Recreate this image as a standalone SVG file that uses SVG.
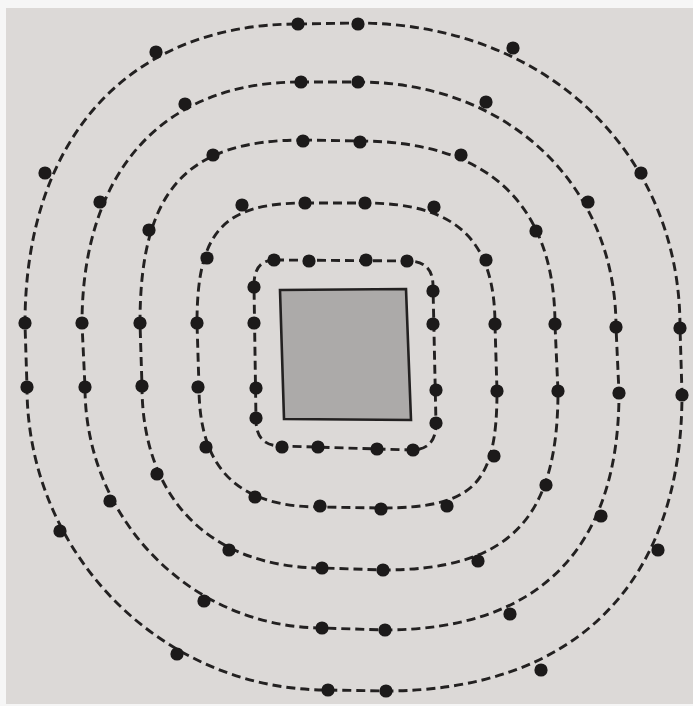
<svg xmlns="http://www.w3.org/2000/svg" width="693" height="706" viewBox="0 0 693 706">
<style>
.ring{fill:none;stroke:#232121;stroke-width:2.9;stroke-dasharray:9 5}
.dot{fill:#1c1a1a}
</style>
<defs>
<circle id="d" r="6.6" class="dot"/>
</defs>
<rect x="0" y="0" width="693" height="706" fill="#f6f6f6"/>
<rect x="6" y="8" width="687" height="696" fill="#dcd9d7"/>
<g id="square">
<polygon points="280,290 406,289 411,420 284,419" fill="#acaaa9" stroke="#232121" stroke-width="2.6"/>
</g>
<g id="connectors">
<path id="ring1-line" class="ring" d="M275,260 L408,261 Q433,261 433,286 L436,424 Q436,450 411,450 L281,446 Q256,446 256,420 L254,285 Q254,260 275,260 Z"/>
<path id="ring2-line" class="ring" d="M305,203 L365,203 C456,203 495,239.6 495,325 L497,391 C497,484.6 473.8,508 381,508 L320,507 C237.7,507 199,468.6 199,387 L197,323 C197,231.8 223,203 305,203 Z"/>
<path id="ring3-line" class="ring" d="M303,140 L359,141 C488,141 555,204 555,325 L558,391 C558,520 509,570 383,570 L323,568 C210.8,568 142,498.8 142,386 L140,323 C140,191.2 185.6,140 303,140 Z"/>
<path id="ring4-line" class="ring" d="M300,82 L358,82 C508,82 616,185 616,327 L619,393 C619,549 539,630 384,630 L323,628 C192,628 85,520 85,387 L82,324 C82,171.5 162.7,82 300,82 Z"/>
<path id="ring5-line" class="ring" d="M298,24 L357,23 C544,23 680,151 680,327 L682,394 C682,584 575,691 385,691 L327,690 C162,690 27,554 27,387 L25,324 C25,138 129,24 298,24 Z"/>
</g>
<g id="ring1">
<use href="#d" x="274" y="260"/><use href="#d" x="309" y="261"/><use href="#d" x="366" y="260"/><use href="#d" x="407" y="261"/>
<use href="#d" x="433" y="291"/><use href="#d" x="433" y="324"/><use href="#d" x="436" y="390"/><use href="#d" x="436" y="423"/>
<use href="#d" x="413" y="450"/><use href="#d" x="377" y="449"/><use href="#d" x="318" y="447"/><use href="#d" x="282" y="447"/>
<use href="#d" x="256" y="418"/><use href="#d" x="256" y="388"/><use href="#d" x="254" y="323"/><use href="#d" x="254" y="287"/>
</g>
<g id="ring2">
<use href="#d" x="242" y="205"/><use href="#d" x="305" y="203"/><use href="#d" x="365" y="203"/><use href="#d" x="434" y="207"/>
<use href="#d" x="486" y="260"/><use href="#d" x="495" y="324"/><use href="#d" x="497" y="391"/><use href="#d" x="494" y="456"/>
<use href="#d" x="447" y="506"/><use href="#d" x="381" y="509"/><use href="#d" x="320" y="506"/><use href="#d" x="255" y="497"/>
<use href="#d" x="206" y="447"/><use href="#d" x="198" y="387"/><use href="#d" x="197" y="323"/><use href="#d" x="207" y="258"/>
</g>
<g id="ring3">
<use href="#d" x="213" y="155"/><use href="#d" x="303" y="141"/><use href="#d" x="360" y="142"/><use href="#d" x="461" y="155"/>
<use href="#d" x="536" y="231"/><use href="#d" x="555" y="324"/><use href="#d" x="558" y="391"/><use href="#d" x="546" y="485"/>
<use href="#d" x="478" y="561"/><use href="#d" x="383" y="570"/><use href="#d" x="322" y="568"/><use href="#d" x="229" y="550"/>
<use href="#d" x="157" y="474"/><use href="#d" x="142" y="386"/><use href="#d" x="140" y="323"/><use href="#d" x="149" y="230"/>
</g>
<g id="ring4">
<use href="#d" x="185" y="104"/><use href="#d" x="301" y="82"/><use href="#d" x="358" y="82"/><use href="#d" x="486" y="102"/>
<use href="#d" x="588" y="202"/><use href="#d" x="616" y="327"/><use href="#d" x="619" y="393"/><use href="#d" x="601" y="516"/>
<use href="#d" x="510" y="614"/><use href="#d" x="385" y="630"/><use href="#d" x="322" y="628"/><use href="#d" x="204" y="601"/>
<use href="#d" x="110" y="501"/><use href="#d" x="85" y="387"/><use href="#d" x="82" y="323"/><use href="#d" x="100" y="202"/>
</g>
<g id="ring5">
<use href="#d" x="156" y="52"/><use href="#d" x="298" y="24"/><use href="#d" x="358" y="24"/><use href="#d" x="513" y="48"/>
<use href="#d" x="641" y="173"/><use href="#d" x="680" y="328"/><use href="#d" x="682" y="395"/><use href="#d" x="658" y="550"/>
<use href="#d" x="541" y="670"/><use href="#d" x="386" y="691"/><use href="#d" x="328" y="690"/><use href="#d" x="177" y="654"/>
<use href="#d" x="60" y="531"/><use href="#d" x="27" y="387"/><use href="#d" x="25" y="323"/><use href="#d" x="45" y="173"/>
</g>
</svg>
